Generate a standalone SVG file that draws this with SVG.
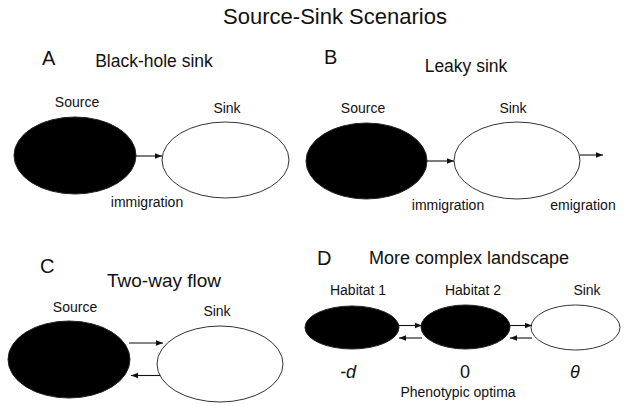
<svg xmlns="http://www.w3.org/2000/svg" width="627" height="410" viewBox="0 0 627 410">
<defs>
<style>
text{font-family:"Liberation Sans",Arial,sans-serif;fill:#111;text-anchor:middle}
.t{font-size:22px}
.L{font-size:20px;text-anchor:start}
.h{font-size:17.5px}
.s{font-size:14px}
.v{font-size:18px;font-style:italic}
.src{fill:#000;stroke:#222;stroke-width:1}
.snk{fill:#fff;stroke:#333;stroke-width:1}
.ar{stroke:#111;stroke-width:1.1;fill:none;marker-end:url(#ah)}
</style>
<marker id="ah" viewBox="0 0 10 10" refX="10" refY="5" markerWidth="7" markerHeight="7" markerUnits="userSpaceOnUse" orient="auto">
<path d="M0,1 L10,5 L0,9 z" fill="#111"/>
</marker>
</defs>
<rect width="627" height="410" fill="#fff"/>
<text class="t" x="335" y="24">Source-Sink Scenarios</text>

<g id="panelA">
<text class="L" x="42" y="65">A</text>
<text class="h" x="154" y="67">Black-hole sink</text>
<g id="A-source"><ellipse class="src" cx="75" cy="155.5" rx="61" ry="38.5"/><text class="s" x="77" y="107">Source</text></g>
<g id="A-sink"><ellipse class="snk" cx="225.5" cy="160" rx="63.5" ry="38"/><text class="s" x="227" y="113">Sink</text></g>
</g>

<g id="panelB">
<text class="L" x="324" y="64">B</text>
<text class="h" x="466" y="72">Leaky sink</text>
<g id="B-source"><ellipse class="src" cx="366.5" cy="161" rx="60.5" ry="38"/><text class="s" x="363" y="113">Source</text></g>
<g id="B-sink"><ellipse class="snk" cx="517" cy="160.5" rx="63" ry="38.5"/><text class="s" x="513" y="113">Sink</text></g>
</g>

<g id="panelC">
<text class="L" x="40" y="273">C</text>
<text class="h" x="164" y="287" style="font-size:19px">Two-way flow</text>
<g id="C-source"><ellipse class="src" cx="69" cy="359.5" rx="61" ry="38.5"/><text class="s" x="75" y="312">Source</text></g>
<g id="C-sink"><ellipse class="snk" cx="220" cy="364" rx="63" ry="38"/><text class="s" x="217" y="316">Sink</text></g>
</g>

<g id="panelD">
<text class="L" x="317" y="265">D</text>
<text class="h" x="469" y="264" style="font-size:18px">More complex landscape</text>
<g id="D-habitat1"><ellipse class="src" cx="352" cy="327.5" rx="47" ry="21.5"/><text class="s" x="358" y="295">Habitat 1</text></g>
<g id="D-habitat2"><ellipse class="src" cx="465.5" cy="327" rx="44.5" ry="22"/><text class="s" x="473" y="295">Habitat 2</text></g>
<g id="D-sink"><ellipse class="snk" cx="575.5" cy="327.5" rx="44.5" ry="22.5"/><text class="s" x="587" y="295">Sink</text></g>
<text class="v" x="348" y="378">-d</text>
<text class="s" x="465" y="378" style="font-size:18px">0</text>
<text class="v" x="575" y="378">θ</text>
<text class="s" x="458" y="397">Phenotypic optima</text>
</g>

<g id="connectors">
<line class="ar" x1="136" y1="156" x2="162" y2="156"/>
<text class="s" x="147" y="207">immigration</text>
<line class="ar" x1="427" y1="161" x2="454" y2="161"/>
<line class="ar" x1="580" y1="155" x2="603" y2="155"/>
<text class="s" x="448" y="210">immigration</text>
<text class="s" x="583" y="210">emigration</text>
<line class="ar" x1="129" y1="343" x2="163" y2="343"/>
<line class="ar" x1="160" y1="375.5" x2="131" y2="375.5"/>
<line class="ar" x1="398" y1="325.5" x2="422" y2="325.5"/>
<line class="ar" x1="422" y1="338" x2="399" y2="338"/>
<line class="ar" x1="509" y1="325.5" x2="532" y2="325.5"/>
<line class="ar" x1="532" y1="338" x2="510" y2="338"/>
</g>
</svg>
